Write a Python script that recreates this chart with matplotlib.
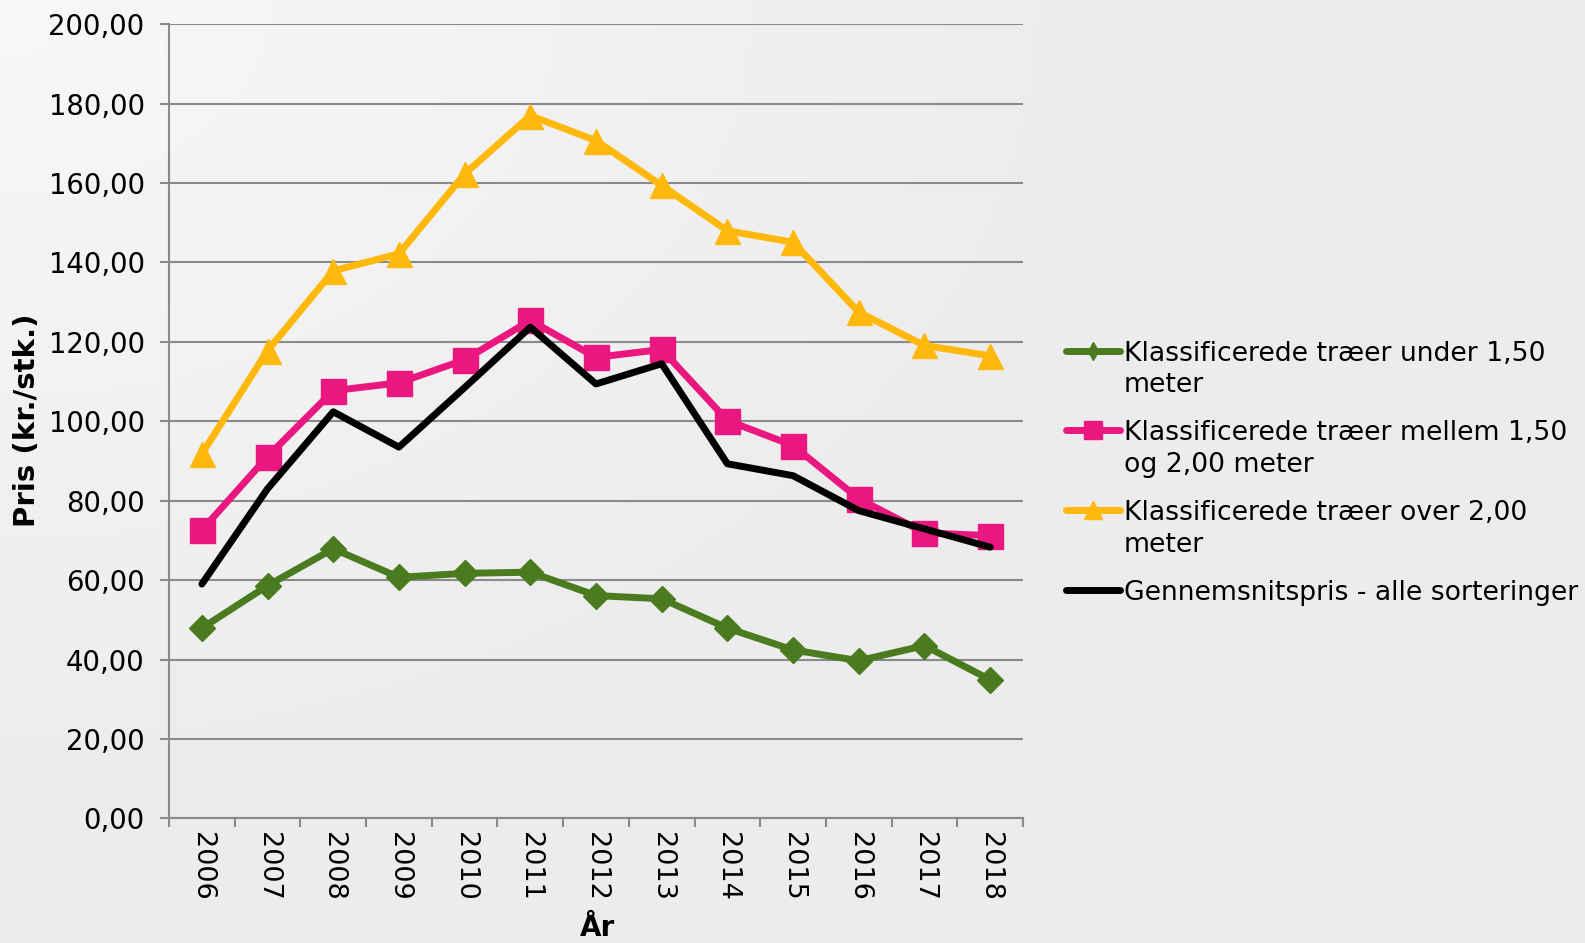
import numpy as np
import matplotlib
matplotlib.use("Agg")
from matplotlib import pyplot as plt
from matplotlib.ticker import FuncFormatter, FixedLocator


years = ["2006", "2007", "2008", "2009", "2010", "2011", "2012",
         "2013", "2014", "2015", "2016", "2017", "2018"]
under150 = [47.9, 58.6, 67.9, 60.7, 61.7, 62.0, 56.1, 55.3, 47.9, 42.4, 39.7, 43.5, 34.9]
mellem = [72.6, 91.1, 107.7, 109.7, 115.5, 125.4, 116.1, 118.1, 100.2, 93.9, 80.5, 71.9, 71.2]
over200 = [91.8, 117.8, 137.9, 142.2, 162.3, 177.0, 170.7, 159.4, 148.0, 145.1, 127.5, 119.1, 116.5]
gennemsnit = [59.0, 83.0, 102.4, 93.5, 108.5, 123.7, 109.4, 114.5, 89.3, 86.3, 77.5, 72.9, 68.3]

labels = ["Klassificerede træer under 1,50\nmeter",
          "Klassificerede træer mellem 1,50\nog 2,00 meter",
          "Klassificerede træer over 2,00\nmeter",
          "Gennemsnitspris - alle sorteringer"]

W, H = 1585, 943
grid_col = "#8a8a8a"
plt.rcParams['font.family'] = ['DejaVu Sans']

fig = plt.figure(figsize=(W / 100, H / 100), dpi=100)

# background gradient + legend live on a full-figure axes (pixel coords)
bg = fig.add_axes([0, 0, 1, 1])
bg.set_zorder(-1)
yy, xx = np.mgrid[0:1:240j, 0:1:400j]
d = np.sqrt((xx * 1.2) ** 2 + yy ** 2)
grad = 0.968 - 0.043 * np.clip(d / 0.8, 0, 1)
bg.imshow(grad, cmap="gray", vmin=0, vmax=1, extent=[0, W, H, 0], aspect="auto")
bg.set_xlim(0, W)
bg.set_ylim(H, 0)
bg.axis("off")

ax = fig.add_axes([169 / W, 1 - 818.3 / H, (1023 - 169) / W, (818.3 - 24.3) / H])
ax.set_facecolor("none")

x = np.arange(len(years))
styles = [
    dict(color="#4a7b1f", marker="D", ms=13),
    dict(color="#e9177f", marker="s", ms=18),
    dict(color="#ffb80b", marker="^", ms=18),
    dict(color="black", marker=None, ms=0),
]
series = [under150, mellem, over200, gennemsnit]
for vals, st in zip(series, styles):
    ax.plot(x, vals, color=st["color"], lw=5, marker=st["marker"], ms=st["ms"],
            mec=st["color"], solid_capstyle="round", clip_on=False, zorder=3)

ax.set_xlim(-0.5, len(years) - 0.5)
ax.set_ylim(0, 200)
ax.set_yticks(np.arange(0, 201, 20))
ax.yaxis.set_major_formatter(FuncFormatter(lambda v, p: f"{v:.2f}".replace(".", ",")))
ax.grid(axis="y", color=grid_col, lw=1.5, zorder=1)
ax.set_axisbelow(True)
for s in ["top", "right"]:
    ax.spines[s].set_visible(False)
for s in ["left", "bottom"]:
    ax.spines[s].set_color(grid_col)
    ax.spines[s].set_linewidth(1.5)

ax.set_xticks(x)
ax.set_xticklabels(years, rotation=270, fontsize=19.5)
ax.xaxis.set_minor_locator(FixedLocator(np.arange(-0.5, len(years), 1.0)))
ax.tick_params(axis="x", which="major", length=0, pad=10)
ax.tick_params(axis="x", which="minor", length=6.5, width=1.5, color=grid_col)
ax.tick_params(axis="y", length=6.5, width=1.5, color=grid_col, labelsize=19.8, pad=11)

fig.text(27 / W, 1 - 420 / H, "Pris (kr./stk.)", rotation=90, ha="center", va="center",
         fontsize=21, fontweight="bold")
fig.text(597 / W, 1 - 928 / H, "År", ha="center", va="center", fontsize=20, fontweight="bold")

# legend, Excel style: handle beside first line of each entry
legend_ms = [9, 13, 13, 0]
legend_mk = ["d", "s", "^", None]
first_center = [351, 430, 510, 590]
for lab, st, cy, mk, lms in zip(labels, styles, first_center, legend_mk, legend_ms):
    bg.plot([1066, 1120], [cy, cy], color=st["color"], lw=5, solid_capstyle="round")
    if mk:
        bg.plot([1093], [cy], marker=mk, ms=lms, color=st["color"], mec=st["color"])
    for k, line in enumerate(lab.split("\n")):
        bg.text(1124, cy + 10 + 31.5 * k, line, fontsize=19.2, ha="left", va="baseline")

fig.savefig("out.png", dpi=100)
